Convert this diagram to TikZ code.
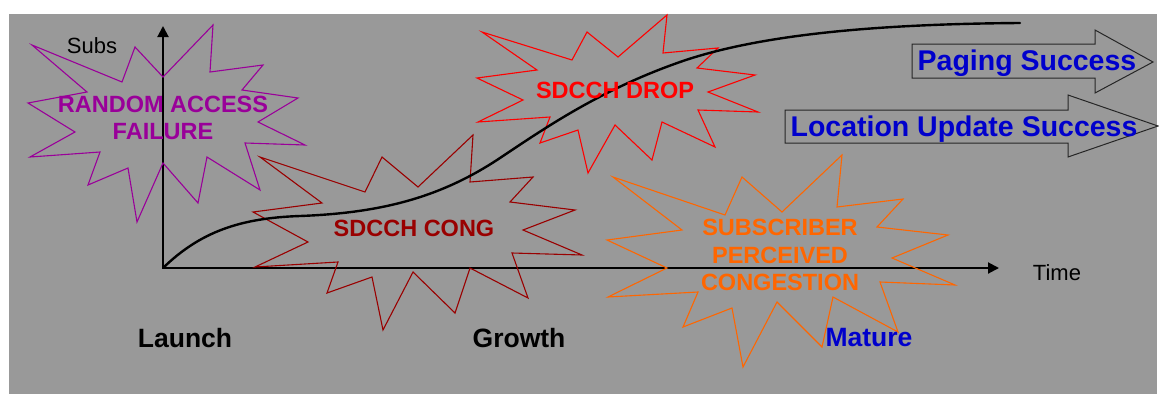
\documentclass[tikz,border=0pt]{standalone}
\usepackage{fontspec}
\setmainfont{Liberation Sans}
\usetikzlibrary{arrows.meta}
\definecolor{bg}{RGB}{153,153,153}
\definecolor{purp}{RGB}{153,0,153}
\definecolor{brn}{RGB}{153,0,0}
\definecolor{orng}{RGB}{255,102,0}
\definecolor{blu}{RGB}{0,0,204}
\tikzset{
  star/.style={line width=1.1pt, line join=miter},
  lbl/.style={font=\fontsize{23.5}{27.5}\selectfont\bfseries, align=center, inner sep=0pt},
  phase/.style={font=\fontsize{26.5}{30}\selectfont\bfseries, inner sep=0pt},
  axislbl/.style={font=\fontsize{22}{26}\selectfont, inner sep=0pt},
  blockarrow/.style={draw=black!85, fill=bg, line width=1pt},
  arrowtxt/.style={font=\fontsize{28.5}{31}\selectfont\bfseries, text=blu, inner sep=0pt},
  axis/.style={line width=2pt, -{Triangle[length=11pt,width=11pt]}}
}
\begin{document}
\begin{tikzpicture}[x=1pt,y=-1pt]
\useasboundingbox (0,0) rectangle (1159,394);
\fill[white] (0,0) rectangle (1159,394);
\fill[bg] (9,14) rectangle (1157,394);

% axes
\coordinate (O) at (163,268);
\coordinate (Ytop) at (163,26);
\coordinate (Xend) at (999,268);
\draw[axis] (O) -- (Ytop);
\draw[axis] (O) -- (Xend);
\node[axislbl] (subs) at (92,46) {Subs};
\node[axislbl] (time) at (1057,273) {Time};

% stars
\draw[star, purp] (32,45) -- (122,82) -- (135,47) -- (163,77) -- (213,25) -- (210,72) -- (263,65) -- (242,90) -- (298,98) -- (258,122) -- (305,145) -- (245,143) -- (260,190) -- (207,157) -- (198,203) -- (163,163) -- (137,222) -- (128,168) -- (88,185) -- (100,152) -- (30,157) -- (75,132) -- (28,103) -- (87,92) -- cycle;

\draw[star, brn] (260,157) -- (365,192) -- (382,157) -- (418,187) -- (473,135) -- (470,182) -- (533,177) -- (510,202) -- (575,210) -- (523,230) -- (582,255) -- (512,253) -- (528,298) -- (470,268) -- (455,313) -- (413,272) -- (383,330) -- (372,277) -- (327,293) -- (338,262) -- (255,267) -- (308,242) -- (253,212) -- (322,203) -- cycle;

\draw[star, red] (482,32) -- (572,60) -- (587,32) -- (618,57) -- (667,15) -- (663,53) -- (718,48) -- (697,68) -- (755,75) -- (708,92) -- (758,112) -- (698,110) -- (715,147) -- (662,122) -- (652,160) -- (615,125) -- (588,173) -- (578,130) -- (540,143) -- (550,117) -- (478,122) -- (523,100) -- (477,78) -- (537,70) -- cycle;

\draw[star, orng] (613,177) -- (725,215) -- (742,177) -- (782,212) -- (842,155) -- (837,207) -- (903,199) -- (877,227) -- (948,235) -- (892,258) -- (955,285) -- (880,282) -- (898,332) -- (833,297) -- (822,347) -- (777,302) -- (743,367) -- (732,308) -- (683,327) -- (698,292) -- (608,297) -- (667,268) -- (607,240) -- (682,230) -- cycle;

% growth curve
\draw[line width=2.4pt, line cap=round] (O)
  .. controls (200,232) and (240,218) .. (300,216)
  .. controls (380,213) and (440,198) .. (500,158)
  .. controls (545,128) and (600,90) .. (680,62)
  .. controls (760,34) and (880,24) .. (1020,23);

% star labels
\node[lbl, text=purp] (raf) at (163,118) {RANDOM ACCESS\\FAILURE};
\node[lbl, text=brn] (cong) at (414,228) {SDCCH CONG};
\node[lbl, text=red] (drop) at (615,90) {SDCCH DROP};
\node[lbl, text=orng] (spc) at (780,255) {SUBSCRIBER\\PERCEIVED\\CONGESTION};

% phases
\node[phase] (launch) at (185,338) {Launch};
\node[phase] (growth) at (519,338) {Growth};
\node[phase, text=blu] (mature) at (869,338) {Mature};

% block arrows
\draw[blockarrow] (912,44) -- (1095,44) -- (1095,30) -- (1153,62) -- (1095,93) -- (1095,78) -- (912,78) -- cycle;
\draw[blockarrow] (785,110) -- (1068,110) -- (1068,95) -- (1158,126) -- (1068,157) -- (1068,143) -- (785,143) -- cycle;
\node[arrowtxt] (paging) at (1027,63) {Paging Success};
\node[arrowtxt] (loc) at (964,129) {Location Update Success};
\end{tikzpicture}
\end{document}
